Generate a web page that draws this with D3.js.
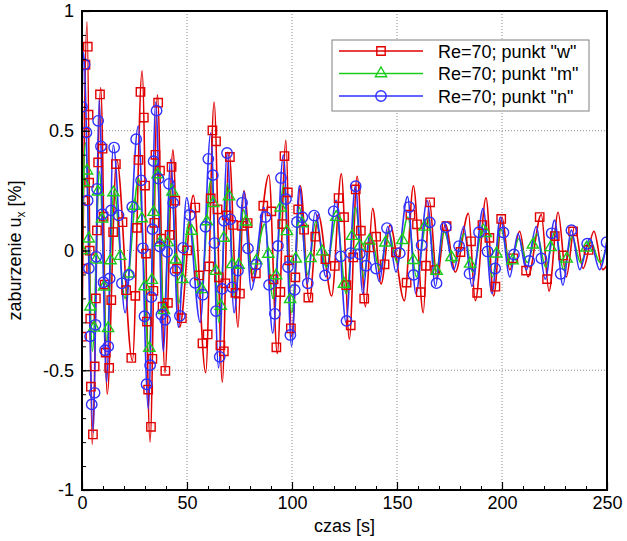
<!DOCTYPE html>
<html><head><meta charset="utf-8">
<script src="https://cdn.jsdelivr.net/npm/d3@7"></script>
<style>
html,body{margin:0;padding:0;background:#fff;}
svg{display:block;font-family:"Liberation Sans",Arial,sans-serif;}
</style></head>
<body>
<svg id="c" width="627" height="541"></svg>
<script>
// ---- data (local extrema of each series) ----
const xTicks = [0, 50, 100, 150, 200, 250];
const yTicks = [-1, -0.5, 0, 0.5, 1];
const seriesNames = ['Re=70; punkt "w"', 'Re=70; punkt "m"', 'Re=70; punkt "n"'];

const redT = [0,2.4,4.8,8.9,12,16.5,24,28.6,32.4,35.9,39.5,43.3,46.5,53,58.9,62.9,66.8,70,74.3,77.1,81.5,89,93,97.1,99.8,104,108.2,112.5,118.9,123.5,127.3,131,135,138.4,142.4,146.7,153.5,157.8,162.5,165.4,169,173,177.8,184,187.3,192.4,196,200,203.7,208.4,212.4,218.7,222.4,226.7,230.6,234.6,238.6,243.8,248,250];
const redV = [-0.36,0.955,-0.81,0.68,-0.6,0.38,-0.46,0.75,-0.8,0.65,-0.51,0.42,-0.32,0.23,-0.51,0.62,-0.55,0.41,-0.32,0.25,-0.13,0.315,-0.43,0.46,-0.36,0.27,-0.21,0.15,-0.19,0.32,-0.37,0.31,-0.235,0.176,-0.14,0.106,-0.21,0.27,-0.26,0.21,-0.12,0.11,-0.09,0.155,-0.21,0.22,-0.19,0.14,-0.08,0.08,-0.11,0.15,-0.17,0.16,-0.11,0.1,-0.075,0.08,-0.08,-0.06];

const greenT = [0,1.6,5,8.3,11.8,15.2,20.5,27,31.8,35.3,39,42.5,46,51,56.5,61.5,65.2,69.3,72.8,77,81,87,91,96,99.9,103.6,107.5,111.2,116.4,121.2,125.8,130.3,134,137.5,141.8,146,150,155.2,159.2,164.5,168.5,172.4,177.2,182,186,191.2,195.4,199.4,204,208,212,216.6,220.8,225.2,229.3,233.3,237.4,242,246.7,250];
const greenV = [0,0.45,-0.42,0.33,-0.38,0.25,-0.2,0.3,-0.42,0.38,-0.25,0.28,-0.22,0.12,-0.18,0.3,-0.3,0.28,-0.2,0.17,-0.1,0.11,-0.2,0.27,-0.26,0.18,-0.1,0.12,-0.07,0.14,-0.18,0.18,-0.11,0.06,-0.08,0.08,-0.05,0.14,-0.11,0.14,-0.09,0.08,-0.05,0.07,-0.09,0.11,-0.11,0.09,-0.06,0.05,-0.05,0.07,-0.07,0.08,-0.08,0.06,-0.05,0.04,-0.05,0.02];

const blueT = [0,0.7,5.4,8.1,11.7,14.9,20.5,26.8,31.6,35.1,38.7,42.2,45.9,49.8,56.3,61.3,65,69.2,72.4,77.1,80.6,86.7,90.8,95.9,99.8,103.5,107.3,111,116.2,121,125.7,130.2,133.7,137,141.6,145.6,149.5,155,159,164.3,168.3,172.2,177,181.8,185.7,191,195.2,199.2,203.7,207.6,211.6,216.3,220.6,225,229,233,237,241.8,246.5,250];
const blueV = [0.6,0.83,-0.76,0.63,-0.55,0.44,-0.26,0.52,-0.66,0.62,-0.42,0.38,-0.32,0.22,-0.3,0.49,-0.49,0.41,-0.26,0.245,-0.165,0.18,-0.345,0.4,-0.4,0.27,-0.14,0.16,-0.11,0.21,-0.3,0.27,-0.18,0.07,-0.13,0.1,-0.09,0.225,-0.18,0.21,-0.15,0.12,-0.08,0.1,-0.15,0.176,-0.18,0.14,-0.11,0.07,-0.08,0.1,-0.12,0.127,-0.145,0.085,-0.08,0.05,-0.08,0.045];

// ---- layout ----
const svg = d3.select('#c');
const L = 82, R = 607, T = 11, B = 490;
const x = d3.scaleLinear().domain([0, 250]).range([L, R]);
const y = d3.scaleLinear().domain([-1, 1]).range([B, T]);

const series = [
  {name: seriesNames[0], t: redT, v: redV, color: '#e00000', sym: d3.symbolSquare, size: 70},
  {name: seriesNames[1], t: greenT, v: greenV, color: '#1ccc1c', sym: d3.symbolTriangle, size: 55},
  {name: seriesNames[2], t: blueT, v: blueV, color: '#3030ff', sym: d3.symbolCircle, size: 85}
];

// grid
const grid = svg.append('g');
grid.selectAll('line.gx').data(xTicks.filter(d => d > 0 && d < 250)).join('line')
  .attr('x1', d => x(d)).attr('x2', d => x(d)).attr('y1', T).attr('y2', B)
  .attr('stroke', '#8a8a8a').attr('stroke-width', 1).attr('stroke-dasharray', '1,2');
grid.selectAll('line.gy').data(yTicks.filter(d => d > -1 && d < 1)).join('line')
  .attr('y1', d => y(d)).attr('y2', d => y(d)).attr('x1', L).attr('x2', R)
  .attr('stroke', '#8a8a8a').attr('stroke-width', 1).attr('stroke-dasharray', '1,2');

svg.append('clipPath').attr('id', 'clip').append('rect')
  .attr('x', L).attr('y', T).attr('width', R - L).attr('height', B - T);

const line = d3.line().x(d => x(d[0])).y(d => y(d[1])).curve(d3.curveMonotoneX);
const plot = svg.append('g').attr('clip-path', 'url(#clip)');

series.forEach(s => {
  const pts = s.t.map((t, i) => [t, s.v[i]]);
  s.path = plot.append('path').datum(pts).attr('d', line)
    .attr('fill', 'none').attr('stroke', s.color).attr('stroke-width', 1.6);
});
// symbols spaced by screen distance along each drawn curve
series.forEach((s, k) => {
  const node = s.path.node();
  const len = node.getTotalLength();
  const step = 68;
  const pos = [];
  for (let l = 0; l <= len; l += step) pos.push(node.getPointAtLength(l));
  plot.append('g').selectAll('path').data(pos).join('path')
    .attr('d', d3.symbol().type(s.sym).size(s.size))
    .attr('transform', p => `translate(${p.x},${p.y})`)
    .attr('fill', 'none').attr('stroke', s.color).attr('stroke-width', 1.4);
});

// axes
const fs = 18;
const xMinor = d3.range(0, 251, 10);
const yMinor = d3.range(-10, 11).map(d => d / 10);
svg.append('g').attr('transform', `translate(0,${B})`)
  .call(d3.axisBottom(x).tickValues(xMinor).tickSize(-4).tickFormat(''))
  .call(g => g.select('.domain').remove());
svg.append('g').attr('transform', `translate(${L},0)`)
  .call(d3.axisLeft(y).tickValues(yMinor).tickSize(-4).tickFormat(''))
  .call(g => g.select('.domain').remove());
const xa = svg.append('g').attr('transform', `translate(0,${B})`)
  .call(d3.axisBottom(x).tickValues(xTicks).tickSize(-8).tickPadding(6).tickFormat(d => String(d)))
  .call(g => g.select('.domain').remove());
const ya = svg.append('g').attr('transform', `translate(${L},0)`)
  .call(d3.axisLeft(y).tickValues(yTicks).tickSize(-8).tickPadding(8).tickFormat(d => String(d)))
  .call(g => g.select('.domain').remove());
[xa, ya].forEach(g => {
  g.selectAll('text').attr('font-size', fs).attr('fill', '#000')
    .attr('font-family', '"Liberation Sans",Arial,sans-serif');
  g.selectAll('line').attr('stroke', '#000').attr('stroke-width', 1.2);
});
svg.selectAll('.tick line').attr('stroke', '#000');

// frame
svg.append('rect').attr('x', L).attr('y', T).attr('width', R - L).attr('height', B - T)
  .attr('fill', 'none').attr('stroke', '#000').attr('stroke-width', 2);

// axis titles
svg.append('text').attr('x', (L + R) / 2).attr('y', 532).attr('text-anchor', 'middle')
  .attr('font-size', fs).text('czas [s]');
const yl = svg.append('text').attr('transform', `translate(21,${(T + B) / 2}) rotate(-90)`)
  .attr('text-anchor', 'middle').attr('font-size', fs);
yl.append('tspan').text('zaburzenie u');
yl.append('tspan').attr('font-size', 12).attr('dy', 4).text('x');
yl.append('tspan').attr('dy', -4).text(' [%]');

// legend
const lg = svg.append('g');
lg.append('rect').attr('x', 332).attr('y', 40).attr('width', 257).attr('height', 71)
  .attr('fill', '#fff').attr('stroke', '#808080').attr('stroke-width', 1);
series.forEach((s, i) => {
  const yy = 51 + i * 22.5;
  lg.append('line').attr('x1', 339).attr('x2', 423).attr('y1', yy).attr('y2', yy)
    .attr('stroke', s.color).attr('stroke-width', 1.6);
  lg.append('path').attr('d', d3.symbol().type(s.sym).size(s.size))
    .attr('transform', `translate(381,${yy})`)
    .attr('fill', 'none').attr('stroke', s.color).attr('stroke-width', 1.4);
  lg.append('text').attr('x', 438).attr('y', yy + 6.5).attr('font-size', fs).text(s.name);
});
</script>
</body></html>
